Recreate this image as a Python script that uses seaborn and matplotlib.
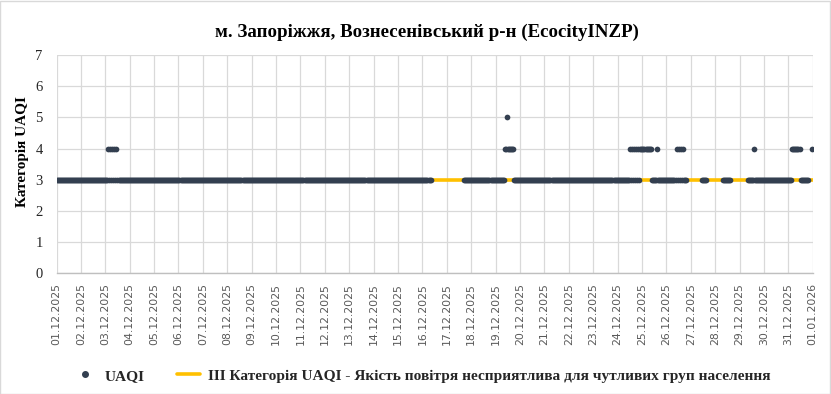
import matplotlib
matplotlib.use("Agg")
import matplotlib.pyplot as plt
import matplotlib.dates as mdates
from matplotlib.lines import Line2D
from matplotlib.patches import Rectangle
import pandas as pd
import seaborn as sns

# ---------------- data ----------------
title = "м. Запоріжжя, Вознесенівський р-н (EcocityINZP)"
y_label = "Категорія UAQI"
series_label = "UAQI"
threshold_label = "III Категорія UAQI - Якість повітря несприятлива для чутливих груп населення"

# hourly observation runs where UAQI category = 3
uaqi3_run_starts = ["2025-12-01 00:00", "2025-12-17 17:00", "2025-12-19 18:00",
                    "2025-12-25 10:00", "2025-12-27 11:00", "2025-12-28 08:00",
                    "2025-12-29 08:00", "2025-12-31 12:00"]
uaqi3_run_ends = ["2025-12-16 08:00", "2025-12-19 08:00", "2025-12-24 21:00",
                  "2025-12-26 19:00", "2025-12-27 15:00", "2025-12-28 15:00",
                  "2025-12-31 03:00", "2025-12-31 19:00"]

# hours with UAQI category = 4
uaqi4_times = [
    "2025-12-03 03:00", "2025-12-03 05:00", "2025-12-03 07:00", "2025-12-03 09:00", "2025-12-03 11:00",
    "2025-12-19 09:00", "2025-12-19 10:00", "2025-12-19 12:00", "2025-12-19 13:00",
    "2025-12-19 14:00", "2025-12-19 15:00", "2025-12-19 16:00", "2025-12-19 17:00",
    "2025-12-24 12:00", "2025-12-24 14:00", "2025-12-24 16:00", "2025-12-24 18:00",
    "2025-12-24 20:00", "2025-12-24 22:00", "2025-12-24 23:00",
    "2025-12-25 00:00", "2025-12-25 01:00", "2025-12-25 02:00", "2025-12-25 04:00",
    "2025-12-25 05:00", "2025-12-25 06:00", "2025-12-25 07:00", "2025-12-25 08:00",
    "2025-12-25 09:00", "2025-12-25 15:00",
    "2025-12-26 10:00", "2025-12-26 12:00", "2025-12-26 14:00", "2025-12-26 16:00",
    "2025-12-29 14:00",
    "2025-12-31 04:00", "2025-12-31 05:00", "2025-12-31 06:00", "2025-12-31 07:00",
    "2025-12-31 08:00", "2025-12-31 09:00", "2025-12-31 10:00", "2025-12-31 11:00",
    "2025-12-31 23:00",
]
# hours with UAQI category = 5
uaqi5_times = ["2025-12-19 11:00"]

# threshold line (category III)
threshold_times = ["2025-12-01 00:00", "2026-01-01 00:00"]
threshold_values = [3, 3]

x_start = "2025-12-01"
x_end = "2026-01-01"
y_ticks = [0, 1, 2, 3, 4, 5, 6, 7]

# ---------------- build table ----------------
t4 = pd.DatetimeIndex(pd.to_datetime(uaqi4_times))
t5 = pd.DatetimeIndex(pd.to_datetime(uaqi5_times))
t3 = pd.DatetimeIndex([])
for s, e in zip(uaqi3_run_starts, uaqi3_run_ends):
    t3 = t3.union(pd.date_range(s, e, freq="h"))
t3 = t3.difference(t4.union(t5))

df = pd.concat([
    pd.DataFrame({"time": t3, "UAQI": 3}),
    pd.DataFrame({"time": t4, "UAQI": 4}),
    pd.DataFrame({"time": t5, "UAQI": 5}),
]).sort_values("time")
thr = pd.DataFrame({"time": pd.to_datetime(threshold_times), "value": threshold_values})

# ---------------- style ----------------
sns.set_theme(style="white")
plt.rcParams["font.family"] = ["Liberation Serif", "DejaVu Serif"]

DOT = "#333F50"
GOLD = "#FFC000"
GRID = "#D9D9D9"

fig = plt.figure(figsize=(8.31, 3.94), dpi=100)
ax = fig.add_axes([0.068, 0.307, 0.910, 0.553])

sns.lineplot(data=thr, x="time", y="value", color=GOLD, linewidth=2.6, ax=ax, zorder=2)
sns.scatterplot(data=df, x="time", y="UAQI", color=DOT, s=17, linewidth=0, ax=ax, zorder=3)

ax.set_xlim(pd.Timestamp(x_start), pd.Timestamp(x_end))
ax.set_ylim(0, 7)
ax.set_yticks(y_ticks)
ax.xaxis.set_major_locator(mdates.DayLocator())
ax.xaxis.set_major_formatter(mdates.DateFormatter("%d.%m.%Y"))
ax.grid(True, color=GRID, linewidth=0.9)
ax.set_axisbelow(True)
ax.set_xlabel("")
ax.set_ylabel("")
for side in ["top", "right", "left"]:
    ax.spines[side].set_visible(False)
ax.spines["bottom"].set_color("#BFBFBF")
ax.spines["bottom"].set_linewidth(1.0)

ax.tick_params(axis="x", length=0, pad=7)
ax.tick_params(axis="y", length=0, pad=10)
for lab in ax.get_xticklabels():
    lab.set_rotation(90)
    lab.set_fontfamily("DejaVu Sans")
    lab.set_fontsize(7.8)
    lab.set_color("#595959")
    lab.set_ha("center")
    lab.set_va("top")
for lab in ax.get_yticklabels():
    lab.set_fontsize(10.5)
    lab.set_color("#262626")

fig.text(0.514, 0.919, title, ha="center", va="center", fontsize=13.6,
         fontweight="bold", color="#000000")
fig.text(0.027, 1 - 152 / 394, y_label, ha="center", va="center", rotation=90,
         fontsize=11, fontweight="bold", color="#000000")

handles = [Line2D([], [], marker="o", linestyle="", color=DOT, markersize=4),
           Line2D([], [], color=GOLD, linewidth=2.6)]
fig.legend(handles, [series_label, threshold_label], loc="center",
           bbox_to_anchor=(0.508, 0.046), ncol=2, frameon=False,
           prop={"weight": "bold", "size": 11.1}, handlelength=1.5,
           columnspacing=2.1, handletextpad=0.5)

fig.patches.append(Rectangle((0.0005, 0.001), 0.998, 0.997, transform=fig.transFigure,
                             fill=False, edgecolor="#D9D9D9", linewidth=1))

fig.savefig("out.png", dpi=100)
